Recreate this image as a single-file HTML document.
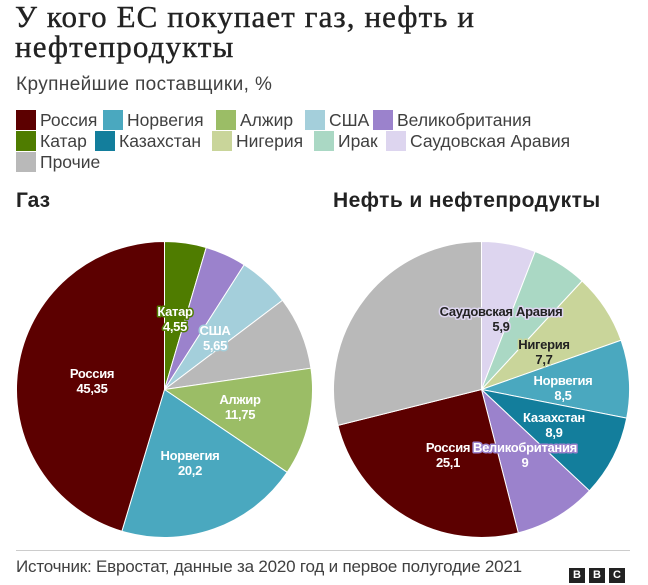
<!DOCTYPE html>
<html><head><meta charset="utf-8"><style>
body{margin:0;background:#fff;width:648px;height:585px;overflow:hidden;position:relative;font-family:"Liberation Sans",sans-serif;color:#404040}
.a{position:absolute;white-space:nowrap}
.sw{position:absolute;width:20px;height:20px}
.lt{position:absolute;font-size:17.5px;letter-spacing:0;line-height:20px}
</style></head><body>
<div class="a" style="left:15px;top:2px;font-family:'Liberation Serif',serif;font-size:31px;line-height:30px;color:#222;letter-spacing:1.1px;-webkit-text-stroke:0.4px #222">У кого ЕС покупает газ, нефть и<br>нефтепродукты</div>
<div class="a" style="left:16px;top:74px;font-size:19px;letter-spacing:0.4px;color:#404040">Крупнейшие поставщики, %</div>
<div id="leg"></div>
<div class="a" style="left:16px;top:189px;font-size:21px;font-weight:bold;color:#222">Газ</div>
<div class="a" style="left:333px;top:189px;font-size:21px;letter-spacing:0.4px;font-weight:bold;color:#222">Нефть и нефтепродукты</div>
<svg width="648" height="585" style="position:absolute;left:0;top:0" id="s"></svg>
<div class="a" style="left:16px;top:550px;width:614px;border-top:1px solid #ccc"></div>
<div class="a" style="left:16px;top:557px;font-size:17px;color:#404040;letter-spacing:-0.2px">Источник: Евростат, данные за 2020 год и первое полугодие 2021</div>
<div class="a" style="left:569px;top:568px;width:16px;height:15px;background:#222;color:#fff;font-weight:bold;font-size:11px;text-align:center;line-height:15px">B</div>
<div class="a" style="left:589px;top:568px;width:16px;height:15px;background:#222;color:#fff;font-weight:bold;font-size:11px;text-align:center;line-height:15px">B</div>
<div class="a" style="left:609px;top:568px;width:16px;height:15px;background:#222;color:#fff;font-weight:bold;font-size:11px;text-align:center;line-height:15px">C</div>
<script>
var C={r:'#5c0000',n:'#4aa8bf',a:'#9bbd66',u:'#a4cfdb',g:'#9b82cc',q:'#4f7c00',k:'#137e9c',ni:'#c9d59a',i:'#aad8c4',s:'#ddd5ef',o:'#b9b9b9'};
var L=[[16,110,'r','Россия'],[103,110,'n','Норвегия'],[216,110,'a','Алжир'],[305,110,'u','США'],[373,110,'g','Великобритания'],
[16,131,'q','Катар'],[95,131,'k','Казахстан'],[212,131,'ni','Нигерия'],[314,131,'i','Ирак'],[386,131,'s','Саудовская Аравия'],[16,152,'o','Прочие']];
var h='';L.forEach(function(l){h+='<div class="sw" style="left:'+l[0]+'px;top:'+l[1]+'px;background:'+C[l[2]]+'"></div><div class="lt" style="left:'+(l[0]+24)+'px;top:'+l[1]+'px">'+l[3]+'</div>';});
document.getElementById('leg').innerHTML=h;
function pie(cx,cy,R,d){var s='',t=0;d.forEach(function(e){var a0=t/100*2*Math.PI;t+=e[1];var a1=t/100*2*Math.PI;
var x0=cx+R*Math.sin(a0),y0=cy-R*Math.cos(a0),x1=cx+R*Math.sin(a1),y1=cy-R*Math.cos(a1);
s+='<path d="M'+cx+','+cy+'L'+x0+','+y0+'A'+R+','+R+' 0 '+(e[1]>50?1:0)+' 1 '+x1+','+y1+'Z" fill="'+C[e[0]]+'" stroke="#fff" stroke-width="1"/>';});return s;}
function lab(x,y,t1,t2,col,halo){var st='font-family:Liberation Sans,sans-serif;font-size:13px;font-weight:bold;letter-spacing:-0.3px;paint-order:stroke;stroke:'+halo+';stroke-width:3px;stroke-linejoin:round';
return '<text x="'+x+'" y="'+y+'" text-anchor="middle" fill="'+col+'" style="'+st+'">'+t1+'</text><text x="'+x+'" y="'+(y+15)+'" text-anchor="middle" fill="'+col+'" style="'+st+'">'+t2+'</text>';}
var g=pie(164.5,389.5,148,[['q',4.55],['g',4.5],['u',5.65],['o',8],['a',11.75],['n',20.2],['r',45.35]]);
var o=pie(481.5,389.5,148,[['s',5.9],['i',6],['ni',7.7],['n',8.5],['k',8.9],['g',9],['r',25.1],['o',28.9]]);
var T=lab(175,316,'Катар','4,55','#fff',C.q)+lab(215,335,'США','5,65','#fff',C.u)+lab(92,378,'Россия','45,35','#fff',C.r)+lab(240,404,'Алжир','11,75','#fff',C.a)+lab(190,460,'Норвегия','20,2','#fff',C.n)+
lab(501,316,'Саудовская Аравия','5,9','#222',C.s)+lab(544,349,'Нигерия','7,7','#222',C.ni)+lab(563,385,'Норвегия','8,5','#fff',C.n)+lab(554,422,'Казахстан','8,9','#fff',C.k)+lab(448,452,'Россия','25,1','#fff',C.r)+lab(525,452,'Великобритания','9','#fff',C.g);
document.getElementById('s').innerHTML=g+o+T;
</script>
</body></html>
